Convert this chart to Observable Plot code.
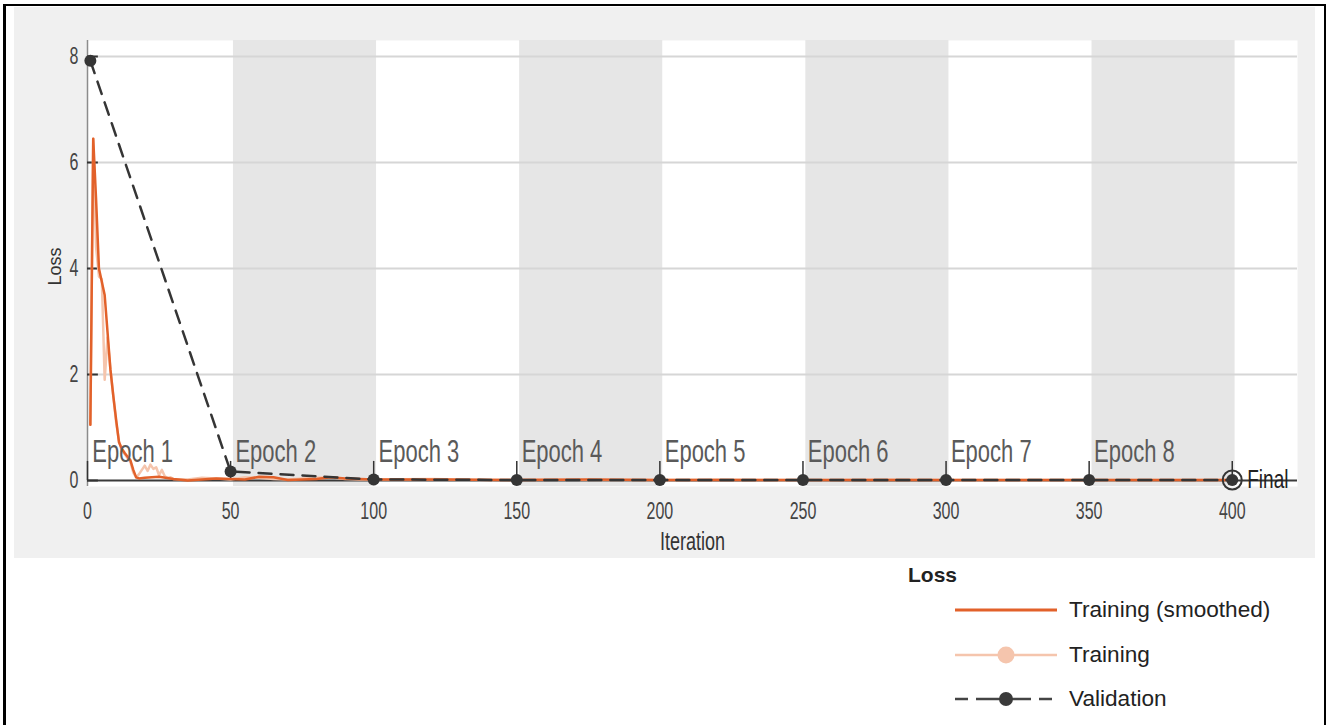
<!DOCTYPE html>
<html><head><meta charset="utf-8">
<script src="https://cdn.jsdelivr.net/npm/d3@7"></script>
<script src="https://cdn.jsdelivr.net/npm/@observablehq/plot@0.6"></script>
<style>
html,body{margin:0;padding:0;background:#fff;overflow:hidden;width:1326px;height:725px;font-family:"Liberation Sans",Arial,sans-serif;}
#border{position:absolute;left:3px;top:4px;width:1318px;height:760px;border-left:3px solid #000;border-top:2px solid #000;border-right:3px solid #000;box-sizing:content-box;}
#panel{position:absolute;left:14px;top:7px;width:1301px;height:551px;background:#f0f0f0;overflow:hidden;}
#panel svg{overflow:hidden;}
.lg{position:absolute;font-size:22.6px;color:#222;white-space:nowrap;line-height:24px;}
</style></head><body>
<div id="border"></div>
<div id="panel"></div>
<div id="legend"></div>
<script>
// ---- data ----
const yTicks = [0, 2, 4, 6, 8];
const xTicks = [0, 50, 100, 150, 200, 250, 300, 350, 400];
const epochStarts = [1, 51, 101, 151, 201, 251, 301, 351];
const epochNames = ["Epoch 1", "Epoch 2", "Epoch 3", "Epoch 4", "Epoch 5", "Epoch 6", "Epoch 7", "Epoch 8"];
const shadedStart = [51, 151, 251, 351];
const shadedEnd = [101, 201, 301, 401];
const valIter = [1, 50, 100, 150, 200, 250, 300, 350, 400];
const valLoss = [7.92, 0.17, 0.02, 0.01, 0.01, 0.01, 0.01, 0.01, 0.01];
const trainIter = [1,2,3,4,5,6,7,8,9,10,11,12,13,14,15,16,17,18,19,20,21,22,23,24,25,26,27,28,29,30,35,40,45,50,55,60,65,70,75,80,85,90,95,100,120,140,160,180,200,220,240,260,280,300,320,340,360,380,400];
const trainLoss = [1.05,6.45,4.4,3.85,3.8,1.9,2.7,2.1,1.6,1.1,0.75,0.55,0.5,0.42,0.35,0.15,0.06,0.12,0.2,0.28,0.18,0.3,0.22,0.25,0.1,0.2,0.08,0.05,0.06,0.03,0.02,0.05,0.04,0.02,0.06,0.05,0.03,0.02,0.04,0.05,0.06,0.03,0.02,0.02,0.03,0.01,0.02,0.01,0.01,0.02,0.01,0.01,0.02,0.01,0.01,0.01,0.01,0.01,0.01];
const smoothIter = [1,2,3,4,5,6,7,8,9,10,11,12,13,14,15,16,17,18,20,25,30,35,40,45,50,55,60,65,70,75,80,85,90,95,100,125,150,175,200,225,250,275,300,325,350,375,400];
const smoothLoss = [1.05,6.45,5.3,4.0,3.75,3.5,2.8,2.1,1.6,1.15,0.72,0.6,0.52,0.45,0.38,0.2,0.06,0.04,0.05,0.07,0.03,0.0,0.02,0.04,0.03,0.02,0.07,0.06,0.01,0.02,0.03,0.06,0.04,0.03,0.02,0.02,0.01,0.02,0.01,0.01,0.01,0.01,0.01,0.01,0.01,0.01,0.01];
const finalIter = 400, finalLoss = 0.01;

// ---- tables ----
const bands = shadedStart.map((s, i) => ({x1: s, x2: shadedEnd[i]}));
const epochs = epochStarts.map((s, i) => ({x: s, name: epochNames[i]}));
const val = valIter.map((x, i) => ({x, y: valLoss[i]}));
const train = trainIter.map((x, i) => ({x, y: trainLoss[i]}));
const smooth = smoothIter.map((x, i) => ({x, y: smoothLoss[i]}));
const fin = [{x: finalIter, y: finalLoss}];

const FONT = '"Liberation Sans", Arial, sans-serif';
const orange = "#e2612a", lightOrange = "#f5c5ad", dark = "#353535";

const chart = Plot.plot({
  width: 1301, height: 551,
  marginLeft: 73, marginRight: 18, marginTop: 33, marginBottom: 72,
  style: {background: "transparent", fontFamily: FONT, overflow: "hidden"},
  x: {domain: [0, 422.8], axis: null},
  y: {domain: [-0.113, 8.302], axis: null},
  marks: [
    Plot.frame({fill: "white", stroke: null}),
    Plot.rect(bands, {x1: "x1", x2: "x2", fill: "#e6e6e6"}),
    Plot.ruleY(yTicks.filter(d => d !== 0), {stroke: "#d6d6d6", strokeWidth: 2}),
    Plot.ruleX([0], {stroke: "#8c8c8c", strokeWidth: 1.5}),
    Plot.ruleY([0], {stroke: "#3a3a3a", strokeWidth: 2}),
    Plot.ruleY(yTicks, {x1: 0, x2: 3.8, stroke: "#333", strokeWidth: 2}),
    Plot.ruleX(xTicks, {y1: 0, y2: 0.36, stroke: "#333", strokeWidth: 1.5}),
    Plot.line(train, {x: "x", y: "y", stroke: lightOrange, strokeWidth: 2.5}),
    Plot.line(smooth, {x: "x", y: "y", stroke: orange, strokeWidth: 2.5}),
    Plot.line(val, {x: "x", y: "y", stroke: dark, strokeWidth: 2.5, strokeDasharray: "13,9"}),
    Plot.dot(val, {x: "x", y: "y", r: 6, fill: dark}),
    Plot.dot(fin, {x: "x", y: "y", r: 9.5, stroke: dark, strokeWidth: 2, fill: "none"}),
    Plot.text(epochs, {x: "x", y: 0, text: "name", textAnchor: "start", dx: 2, dy: -29, fontSize: 22, fill: "#5a5a5a"}),
    Plot.text(xTicks, {x: d => d, y: 0, text: d => String(d), dy: 31, fontSize: 16, fill: "#444"}),
    Plot.text(yTicks, {x: 0, y: d => d, text: d => String(d), dx: -9, textAnchor: "end", fontSize: 16, fill: "#444"}),
    Plot.text(fin, {x: "x", y: "y", text: () => "Final", textAnchor: "start", dx: 15, fontSize: 19, fill: "#222"}),
    Plot.text(["Iteration"], {frameAnchor: "bottom", lineAnchor: "middle", dy: 56, fontSize: 18, fill: "#333"}),
    Plot.text(["Loss"], {frameAnchor: "left", rotate: -90, dx: -32, dy: 22, fontSize: 18, fill: "#333"})
  ]
});
// vertically stretch the plot texts like the reference
chart.querySelectorAll("text").forEach(t => {
  const s = t.textContent;
  let k = null;
  if (/^Epoch/.test(s)) k = 1.45;
  else if (/^\d+$/.test(s)) k = 1.5;
  else if (s === "Final" || s === "Iteration") k = 1.4;
  if (!k) return;
  const y = parseFloat(t.getAttribute("y") || 0);
  const tr = t.getAttribute("transform") || "";
  t.setAttribute("transform", `${tr} translate(0,${y}) scale(1,${k}) translate(0,${-y})`);
});
document.getElementById("panel").appendChild(chart);

// ---- legend ----
const legendTitle = "Loss";
const legendNames = ["Training (smoothed)", "Training", "Validation"];
const lg = document.getElementById("legend");
const title = document.createElement("div");
title.className = "lg";
title.style.cssText = "left:908px;top:563px;font-weight:bold;font-size:21px;";
title.textContent = legendTitle;
lg.appendChild(title);
const rowY = [610, 655, 699];
legendNames.forEach((name, i) => {
  const svgNS = "http://www.w3.org/2000/svg";
  const s = document.createElementNS(svgNS, "svg");
  s.setAttribute("width", 110); s.setAttribute("height", 24);
  s.style.cssText = `position:absolute;left:952px;top:${rowY[i] - 12}px;`;
  const ln = document.createElementNS(svgNS, "line");
  ln.setAttribute("x1", 3); ln.setAttribute("x2", 105); ln.setAttribute("y1", 12); ln.setAttribute("y2", 12);
  if (i === 0) { ln.setAttribute("stroke", orange); ln.setAttribute("stroke-width", 3); }
  if (i === 1) { ln.setAttribute("stroke", lightOrange); ln.setAttribute("stroke-width", 2.5); }
  if (i === 2) { ln.setAttribute("stroke", "#444"); ln.setAttribute("stroke-width", 2.5); ln.setAttribute("stroke-dasharray", "13,8,55,8,13"); }
  s.appendChild(ln);
  if (i > 0) {
    const c = document.createElementNS(svgNS, "circle");
    c.setAttribute("cx", 54); c.setAttribute("cy", 12); c.setAttribute("r", i === 1 ? 8.5 : 7);
    c.setAttribute("fill", i === 1 ? lightOrange : "#3a3a3a");
    s.appendChild(c);
  }
  lg.appendChild(s);
  const t = document.createElement("div");
  t.className = "lg";
  t.style.cssText = `left:1069px;top:${rowY[i] - 12}px;`;
  t.textContent = name;
  lg.appendChild(t);
});
</script>
</body></html>
